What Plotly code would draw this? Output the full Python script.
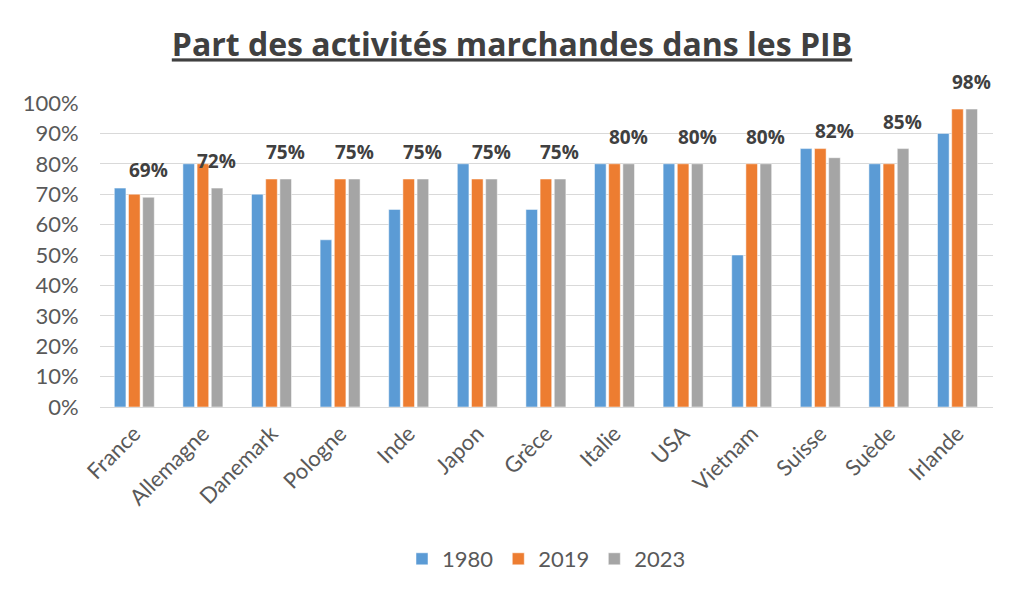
import plotly.graph_objects as go

# données
pays = ["France", "Allemagne", "Danemark", "Pologne", "Inde", "Japon", "Grèce",
        "Italie", "USA", "Vietnam", "Suisse", "Suède", "Irlande"]
val_1980 = [72, 80, 70, 55, 65, 80, 65, 80, 80, 50, 85, 80, 90]
val_2019 = [70, 80, 75, 75, 75, 75, 75, 80, 80, 80, 85, 80, 98]
val_2023 = [69, 72, 75, 75, 75, 75, 75, 80, 80, 80, 82, 85, 98]

series = [
    ("1980", val_1980, "#5b9bd5"),
    ("2019", val_2019, "#ed7d31"),
    ("2023", val_2023, "#a5a5a5"),
]

fig = go.Figure()
for nom, vals, couleur in series:
    fig.add_trace(go.Bar(
        name=nom, x=pays, y=vals,
        marker=dict(color=couleur, line=dict(color="white", width=0.5)),
    ))

# étiquettes au-dessus des barres 2023
for p, v in zip(pays, val_2023):
    fig.add_annotation(
        x=p, y=v, xref="x", yref="y",
        text=f"<b>{v}%</b>", showarrow=False,
        xshift=14, yshift=12, yanchor="bottom",
        font=dict(family="Open Sans", size=19, color="#404040"),
    )

fig.update_layout(
    width=1010, height=590,
    paper_bgcolor="white", plot_bgcolor="white",
    margin=dict(l=92, r=25, t=95, b=191),
    barmode="group", bargap=0.38, bargroupgap=0.18,
    title=dict(
        text="<b><u>Part des activités marchandes dans les PIB</u></b>",
        x=0.499, xanchor="center", y=0.937, yanchor="middle",
        font=dict(family="Open Sans", size=32, color="#404040"),
        automargin=False,
    ),
    font=dict(family="Lato", size=18, color="#595959"),
    legend=dict(
        orientation="h", x=0.5, xanchor="center", y=-0.5, yanchor="middle",
        font=dict(family="Lato", size=22, color="#595959"),
        traceorder="normal", itemwidth=30,
    ),
    showlegend=True,
)
fig.update_yaxes(
    range=[0, 100], dtick=10, ticksuffix="%",
    showgrid=True, gridcolor="#d9d9d9", gridwidth=1.3,
    zeroline=True, zerolinecolor="#d9d9d9", zerolinewidth=1.3,
    tickfont=dict(family="Lato", size=22, color="#595959"),
    ticks="outside", ticklen=16, tickcolor="rgba(0,0,0,0)",
    showline=False, automargin=False,
)
fig.update_xaxes(
    tickangle=-45, ticks="outside", ticklen=4, tickcolor="rgba(0,0,0,0)",
    showline=False, automargin=False,
    tickfont=dict(family="Lato", size=22, color="#595959"),
)

fig.write_html("out.html")
